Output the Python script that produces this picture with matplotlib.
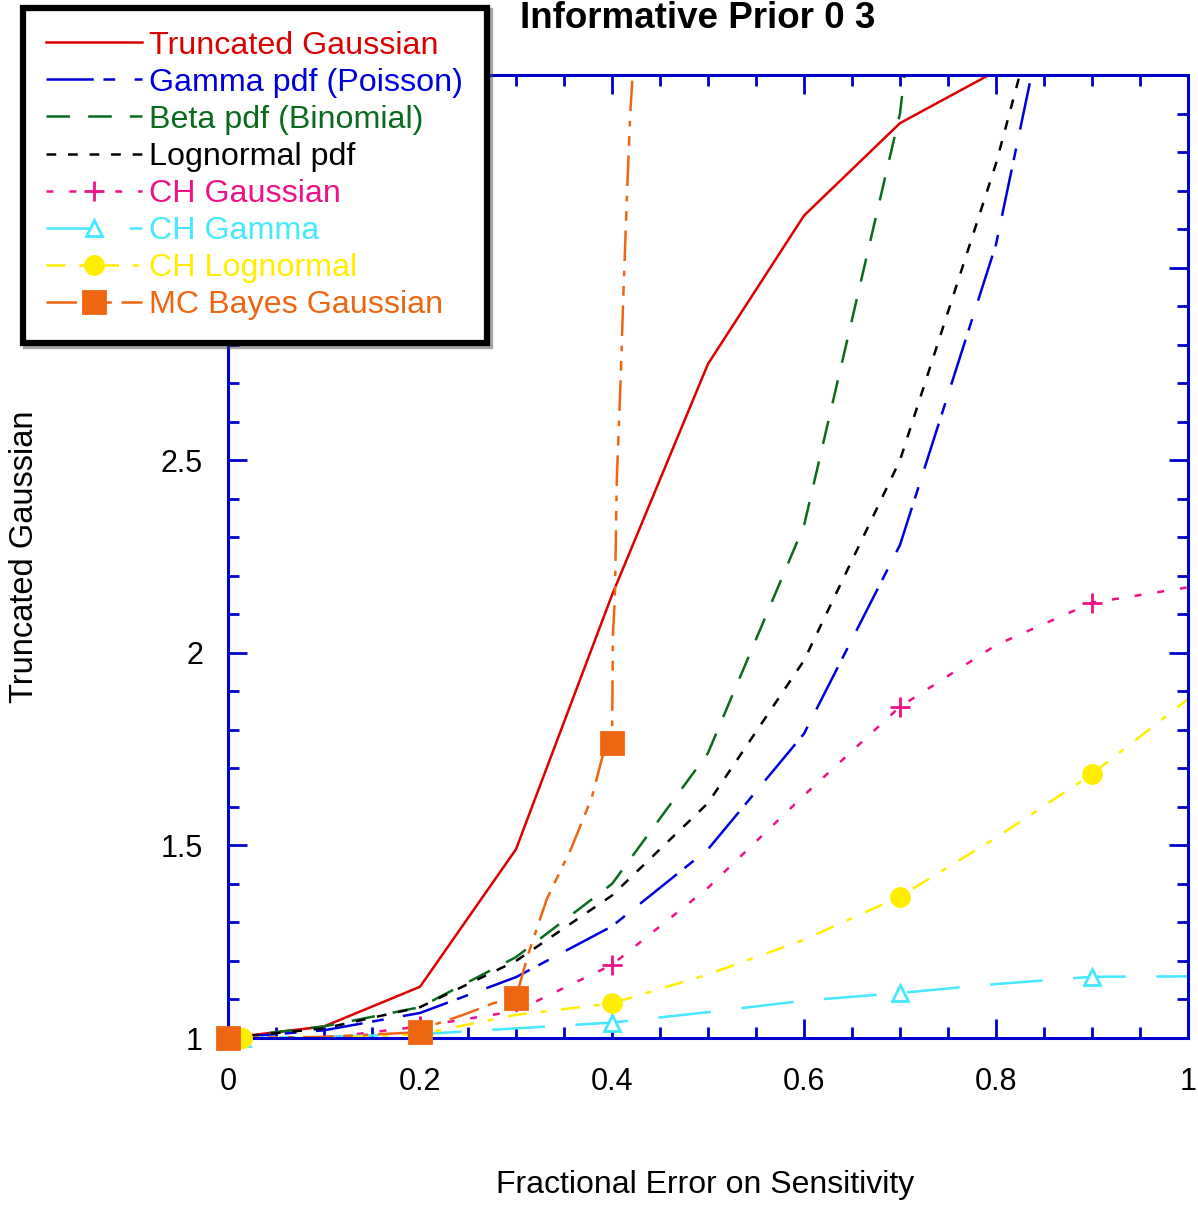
import numpy as np
import matplotlib.pyplot as plt
from matplotlib.lines import Line2D
from matplotlib.ticker import MultipleLocator, FuncFormatter

plt.rcParams['font.family'] = ['Liberation Sans', 'DejaVu Sans']
plt.rcParams['lines.scale_dashes'] = False

# Fractional error values and ratios for each method
x_trunc = [0, 0.1, 0.2, 0.3, 0.4, 0.5, 0.6, 0.7, 0.8]
y_trunc = [1.0, 1.03, 1.133, 1.49, 2.15, 2.75, 3.135, 3.375, 3.51]

x_pdf = [0, 0.1, 0.2, 0.3, 0.4, 0.5, 0.6, 0.7, 0.8, 0.9]
y_gamma = [1.0, 1.02, 1.065, 1.158, 1.29, 1.49, 1.79, 2.28, 3.06, 4.25]
y_logn = [1.0, 1.025, 1.08, 1.20, 1.37, 1.61, 1.98, 2.50, 3.27, 4.20]

x_beta = [0, 0.1, 0.2, 0.3, 0.4, 0.5, 0.6, 0.7, 0.8]
y_beta = [1.0, 1.03, 1.08, 1.21, 1.40, 1.74, 2.33, 3.40, 5.56]

x_ch = [0.015, 0.1, 0.2, 0.3, 0.4, 0.5, 0.6, 0.7, 0.8, 0.9, 1.0]
y_ch_gauss = [1.0, 1.0, 1.03, 1.07, 1.19, 1.39, 1.63, 1.86, 2.02, 2.13, 2.17]
y_ch_gamma = [1.0, 1.003, 1.01, 1.025, 1.04, 1.067, 1.097, 1.117, 1.14, 1.159, 1.16]
y_ch_logn = [1.0, 1.0, 1.01, 1.06, 1.09, 1.165, 1.255, 1.367, 1.52, 1.685, 1.88]
ch_marks = [0, 2, 4, 7, 9]

x_mc = [0, 0.1, 0.2, 0.214, 0.245, 0.276, 0.3, 0.3125, 0.332, 0.358, 0.379,
        0.39, 0.4, 0.401, 0.403, 0.405, 0.409, 0.412, 0.4155, 0.419, 0.422]
y_mc = [1.0, 1.003, 1.015, 1.034, 1.06, 1.09, 1.105, 1.216, 1.36, 1.495, 1.625,
        1.73, 1.765, 2.05, 2.14, 2.45, 2.71, 2.94, 3.18, 3.40, 3.52]
mc_marks = [0, 2, 6, 12]

# label, x, y, color, dash pattern (pt), marker, size, face, marker indices
series = [
    ('Truncated Gaussian', x_trunc, y_trunc, '#DD0000', None, None, 0, None, []),
    ('Gamma pdf (Poisson)', x_pdf, y_gamma, '#0000DD', (34, 7, 8.5, 14), None, 0, None, []),
    ('Beta pdf (Binomial)', x_beta, y_beta, '#0A6B1E', (17, 13), None, 0, None, []),
    ('Lognormal pdf', x_pdf, y_logn, 'black', (7, 8.5), None, 0, None, []),
    ('CH Gaussian', x_ch, y_ch_gauss, '#EE1188', (5, 11.5), '+', 14, None, ch_marks),
    ('CH Gamma', x_ch, y_ch_gamma, '#44E8FF', (38, 22), '^', 11, 'white', ch_marks),
    ('CH Lognormal', x_ch, y_ch_logn, '#FFEE00', (13.7, 10, 4.3, 10.5), 'o', 13, None, ch_marks),
    ('MC Bayes Gaussian', x_mc, y_mc, '#EE6611', (22, 7, 7, 7, 4, 7), 's', 16, None, mc_marks),
]

fig = plt.figure(figsize=(11.98, 12.05), dpi=100)
ax = fig.add_axes([228 / 1198, 167 / 1205, 960 / 1198, 963 / 1205])

handles = []
for label, x, y, color, dashes, marker, ms, mfc, marks in series:
    x = np.array(x)
    y = np.array(y)
    line, = ax.plot(x, y, color=color, lw=1.8)
    if dashes is not None:
        line.set_dashes(dashes)
    if marker is not None:
        ax.plot(x[marks], y[marks], ls='none', marker=marker, ms=ms, color=color,
                mfc=mfc if mfc else color, mew=2, clip_on=False, zorder=4)
    h = Line2D([], [], color=color, lw=1.8, marker=marker, ms=ms,
               mfc=mfc if mfc else color, mew=2)
    if dashes is not None:
        h.set_dashes(dashes)
    handles.append(h)

ax.set_xlim(0, 1)
ax.set_ylim(1, 3.5)
ax.xaxis.set_major_locator(MultipleLocator(0.2))
ax.xaxis.set_minor_locator(MultipleLocator(0.05))
ax.yaxis.set_major_locator(MultipleLocator(0.5))
ax.yaxis.set_minor_locator(MultipleLocator(0.1))
ax.xaxis.set_major_formatter(FuncFormatter(lambda v, p: '%g' % round(v, 3)))
# labels above 2.5 sit under the legend box
ax.yaxis.set_major_formatter(FuncFormatter(lambda v, p: '%g' % round(v, 3) if v < 2.7 else ''))

axis_blue = '#0000CC'
for s in ax.spines.values():
    s.set_color(axis_blue)
    s.set_linewidth(2.2)
ax.tick_params(which='both', direction='in', top=True, right=True,
               color=axis_blue, width=2, labelsize=22)
ax.tick_params(which='major', length=14)
ax.tick_params(which='minor', length=8)
ax.tick_params(axis='x', pad=21)
ax.tick_params(axis='y', pad=18)

fig.text(698 / 1198, 1 - 18 / 1205, 'Informative Prior 0 3', fontsize=26.5,
         fontweight='bold', ha='center', va='center')
fig.text(705 / 1198, 1 - 1185 / 1205, 'Fractional Error on Sensitivity',
         fontsize=23, ha='center', va='center')
fig.text(25 / 1198, 1 - 557 / 1205, 'Truncated Gaussian', fontsize=23.5,
         rotation=90, ha='center', va='center')

leg = fig.legend(handles, [s[0] for s in series], loc='upper left',
                 bbox_to_anchor=(23 / 1198, 1 - 338 / 1205, 464 / 1198, 330 / 1205),
                 mode='expand', borderaxespad=0,
                 fontsize=23.2, handlelength=3.0, handletextpad=0.22,
                 labelspacing=0.22, borderpad=0.7, numpoints=1,
                 fancybox=False, shadow=True, framealpha=1,
                 edgecolor='black', labelcolor='linecolor')
leg.get_frame().set_linewidth(4.5)

fig.savefig('out.png', dpi=100)
